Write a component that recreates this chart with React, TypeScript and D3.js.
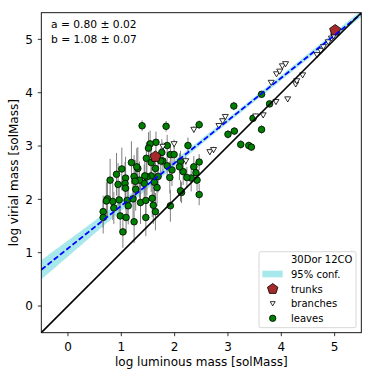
import React from "react";
import * as d3 from "d3";

const xTicks = [0, 1, 2, 3, 4, 5];
const yTicks = [0, 1, 2, 3, 4, 5];
const fitA = 0.8;
const fitB = 1.08;
const annotation = ["a = 0.80 \u00b1 0.02", "b = 1.08 \u00b1 0.07"];

const bandX = [-0.5, 0, 0.5, 1, 1.5, 2, 2.5, 3, 3.5, 4, 4.5, 5, 5.5];
const bandHalf = [0.18, 0.15, 0.12, 0.095, 0.075, 0.06, 0.05, 0.045, 0.045, 0.045, 0.05, 0.055, 0.06];

const trunkX = [1.64, 5.01];
const trunkY = [2.8, 5.17];

const branchX = [1.78, 1.99, 2.21, 2.36, 2.66, 2.73, 2.83, 2.9, 2.95, 3.52, 3.66, 3.81, 3.9, 3.91, 3.97, 4.02, 4.08, 4.12, 4.27, 4.29, 4.4, 4.67, 4.74, 4.79, 4.88, 4.94, 4.98];
const branchY = [2.99, 3.04, 2.72, 3.31, 2.89, 2.93, 3.38, 3.47, 3.55, 3.56, 3.58, 4.19, 3.83, 4.35, 4.4, 4.5, 4.54, 3.88, 4.16, 4.22, 4.33, 4.71, 4.79, 4.86, 4.95, 5.02, 5.06];
const branchErr = [0.08, 0.08, 0.08, 0.06, 0.06, 0.06, 0.05, 0.05, 0.05, 0.05, 0.05, 0.04, 0.05, 0.04, 0.04, 0.04, 0.04, 0.05, 0.04, 0.04, 0.04, 0.03, 0.03, 0.03, 0.03, 0.03, 0.03];

const leafX = [1.39, 1.84, 2.46, 3.11, 3.63, 3.78, 3.47, 3.63, 3.0, 3.12, 3.24, 3.39, 3.44, 2.25, 2.46, 2.36, 2.4, 2.42, 2.46, 2.31, 2.23, 2.16, 2.11, 2.09, 2.13, 2.11, 1.92, 1.99, 1.86, 1.76, 1.78, 1.86, 1.95, 1.91, 1.92, 1.65, 1.54, 1.51, 1.47, 1.56, 1.64, 1.69, 1.62, 1.67, 1.56, 1.48, 1.43, 1.44, 1.34, 1.31, 1.29, 1.19, 1.24, 1.26, 1.27, 1.22, 1.24, 1.36, 1.46, 1.58, 1.6, 1.64, 1.46, 1.08, 1.07, 1.08, 1.01, 0.91, 0.94, 0.79, 1.11, 1.13, 0.96, 0.84, 0.74, 0.72, 0.86, 0.66, 0.66, 0.98, 1.09, 1.03, 1.74];
const leafY = [3.38, 3.37, 3.4, 3.75, 3.97, 3.79, 3.52, 3.31, 3.22, 3.28, 3.03, 3.01, 2.98, 3.01, 2.7, 2.61, 2.5, 2.36, 2.09, 2.4, 2.41, 2.52, 2.71, 2.61, 2.13, 2.16, 2.84, 2.84, 3.01, 2.88, 2.72, 2.63, 2.55, 2.41, 1.88, 3.07, 3.04, 2.96, 2.77, 2.69, 2.58, 2.43, 2.32, 2.22, 2.44, 2.42, 2.3, 2.44, 2.36, 2.58, 2.61, 2.69, 2.43, 2.34, 2.19, 2.01, 1.58, 1.94, 1.98, 2.02, 1.89, 1.77, 1.66, 2.4, 2.3, 2.21, 2.57, 2.47, 2.28, 2.36, 1.98, 1.88, 1.99, 1.96, 2.01, 1.97, 1.84, 1.77, 1.66, 1.69, 1.66, 1.39, 2.72];
const leafErr = [0.1, 0.1, 0.08, 0.08, 0.06, 0.06, 0.06, 0.08, 0.08, 0.07, 0.08, 0.07, 0.07, 0.15, 0.15, 0.2, 0.2, 0.2, 0.2, 0.25, 0.2, 0.25, 0.2, 0.25, 0.2, 0.2, 0.2, 0.2, 0.2, 0.25, 0.25, 0.25, 0.3, 0.3, 0.3, 0.2, 0.25, 0.3, 0.3, 0.3, 0.3, 0.3, 0.35, 0.35, 0.3, 0.35, 0.35, 0.35, 0.35, 0.4, 0.35, 0.4, 0.4, 0.4, 0.4, 0.4, 0.4, 0.4, 0.35, 0.35, 0.35, 0.35, 0.35, 0.4, 0.4, 0.4, 0.4, 0.4, 0.4, 0.4, 0.35, 0.35, 0.35, 0.35, 0.35, 0.35, 0.3, 0.3, 0.3, 0.3, 0.3, 0.3, 0.25];

const legendLabels = ["30Dor 12CO", "95% conf.", "trunks", "branches", "leaves"];

const W = 374;
const H = 378;
const left = 41.3;
const top = 12.7;
const size = 320;
const FONT = "DejaVu Sans, sans-serif";

const pentagon = (cx: number, cy: number, r: number) =>
  d3.range(5).map((i) => {
    const a = -Math.PI / 2 + (i * 2 * Math.PI) / 5;
    return [cx + r * Math.cos(a), cy + r * Math.sin(a)].join(",");
  }).join(" ");

const triDown = (cx: number, cy: number, r: number) =>
  [
    [cx - r, cy - r * 0.75],
    [cx + r, cy - r * 0.75],
    [cx, cy + r * 0.95],
  ].map((p) => p.join(",")).join(" ");

export default function App() {
  const x = d3.scaleLinear().domain([-0.5, 5.5]).range([left, left + size]);
  const y = d3.scaleLinear().domain([-0.5, 5.5]).range([top + size, top]);

  const bandArea = d3
    .area<number>()
    .x((d) => x(d))
    .y0((d, i) => y(fitA * d + fitB - bandHalf[i]))
    .y1((d, i) => y(fitA * d + fitB + bandHalf[i]))
    .curve(d3.curveMonotoneX);

  const fitLine = d3.line<number>().x((d) => x(d)).y((d) => y(fitA * d + fitB));
  const idLine = d3.line<number>().x((d) => x(d)).y((d) => y(d));
  const ends = [-0.5, 5.5];

  const lx = 272.7;
  const ltx = 291;
  const lyc = [259, 274, 289, 303.5, 318.3];

  return (
    <svg width={W} height={H} style={{ position: "absolute", left: 0, top: 0, background: "#fff" }} fontFamily={FONT}>
      <defs>
        <clipPath id="plotclip">
          <rect x={left} y={top} width={size} height={size} />
        </clipPath>
      </defs>
      <g clipPath="url(#plotclip)">
        <path d={bandArea(bandX) || ""} fill="#00bcc8" fillOpacity={0.35} stroke="none" />
        {leafX.map((d, i) => (
          <line key={"le" + i} x1={x(d)} x2={x(d)} y1={y(leafY[i] - leafErr[i])} y2={y(leafY[i] + leafErr[i])} stroke="#808080" strokeWidth={1} />
        ))}
        {branchX.map((d, i) => (
          <line key={"be" + i} x1={x(d)} x2={x(d)} y1={y(branchY[i] - branchErr[i])} y2={y(branchY[i] + branchErr[i])} stroke="#808080" strokeWidth={1} />
        ))}
        {leafX.map((d, i) => (
          <circle key={"l" + i} cx={x(d)} cy={y(leafY[i])} r={3.3} fill="#008000" stroke="#000" strokeWidth={0.8} />
        ))}
        {branchX.map((d, i) => (
          <polygon key={"b" + i} points={triDown(x(d), y(branchY[i]), 3)} fill="#fff" stroke="#000" strokeWidth={0.8} />
        ))}
        {trunkX.map((d, i) => (
          <polygon key={"t" + i} points={pentagon(x(d), y(trunkY[i]), 5.8)} fill="#a52a2a" stroke="#000" strokeWidth={0.8} />
        ))}
        <path d={fitLine(ends) || ""} fill="none" stroke="#0000ff" strokeWidth={1.8} strokeDasharray="5.5,2.5" />
        <path d={idLine(ends) || ""} fill="none" stroke="#000" strokeWidth={1.6} />
      </g>
      <rect x={left} y={top} width={size} height={size} fill="none" stroke="#000" strokeWidth={0.9} />
      {xTicks.map((t) => (
        <g key={"xt" + t}>
          <line x1={x(t)} x2={x(t)} y1={top + size} y2={top + size + 3.5} stroke="#000" strokeWidth={0.8} />
          <text x={x(t)} y={351} textAnchor="middle" fontSize={12}>{t}</text>
        </g>
      ))}
      {yTicks.map((t) => (
        <g key={"yt" + t}>
          <line x1={left - 3.5} x2={left} y1={y(t)} y2={y(t)} stroke="#000" strokeWidth={0.8} />
          <text x={33} y={y(t) + 4.3} textAnchor="end" fontSize={12}>{t}</text>
        </g>
      ))}
      <text x={left + size / 2} y={366} textAnchor="middle" fontSize={12}>log luminous mass [solMass]</text>
      <text transform={`translate(18,${top + size / 2}) rotate(-90)`} textAnchor="middle" fontSize={12}>log virial mass [solMass]</text>
      {annotation.map((s, i) => (
        <text key={"an" + i} x={51} y={28 + i * 15} fontSize={10.7}>{s}</text>
      ))}
      <rect x={259} y={251.7} width={97} height={76} rx={2} fill="#fff" fillOpacity={0.8} stroke="#cccccc" strokeWidth={0.8} />
      <rect x={262.3} y={270.7} width={20.4} height={6.6} fill="#00bcc8" fillOpacity={0.35} />
      <polygon points={pentagon(lx, lyc[2], 5.5)} fill="#a52a2a" stroke="#000" strokeWidth={0.8} />
      <polygon points={triDown(lx, lyc[3], 2.5)} fill="#fff" stroke="#000" strokeWidth={0.8} />
      <circle cx={lx} cy={lyc[4]} r={3.2} fill="#008000" stroke="#000" strokeWidth={0.8} />
      {legendLabels.map((s, i) => (
        <text key={"lg" + i} x={ltx} y={lyc[i] + 3.6} fontSize={10}>{s}</text>
      ))}
    </svg>
  );
}
